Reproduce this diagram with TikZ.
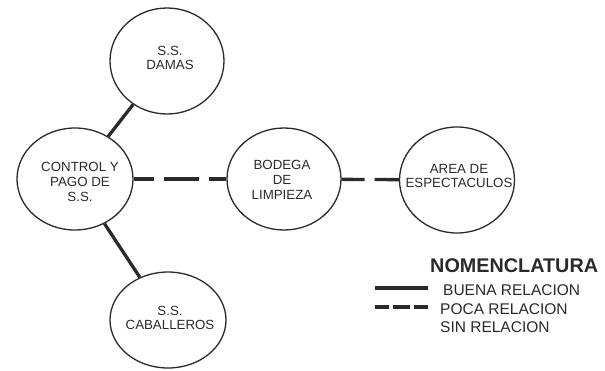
\documentclass[tikz,border=0pt]{standalone}
\usepackage{fontspec}
\setmainfont{Liberation Sans}
\usetikzlibrary{shapes.geometric}
\definecolor{ink}{HTML}{2A2A2A}
\begin{document}
\begin{tikzpicture}[x=1pt,y=-1pt,
  area/.style={ellipse,draw=ink,line width=1.3pt,inner sep=0pt},
  txt/.style={align=center,font=\fontsize{13.3}{14.8}\selectfont,text=ink,inner sep=0pt},
  good/.style={draw=ink,line width=3.3pt},
  poor/.style={draw=ink,line width=3.3pt,dash pattern=on 35pt off 10pt},
  legtext/.style={anchor=base west,font=\fontsize{15.5}{18}\selectfont,text=ink,inner sep=0pt}]
\useasboundingbox (0,0) rectangle (605,370);
\node[area,minimum width=114pt,minimum height=106pt] (damas) at (167,61) {};
\node[area,minimum width=116pt,minimum height=102pt] (control) at (75,179) {};
\node[area,minimum width=116pt,minimum height=96pt] (cab) at (168,320) {};
\node[area,minimum width=114pt,minimum height=102pt] (bodega) at (284,179) {};
\node[area,minimum width=115pt,minimum height=106pt] (esp) at (457,180) {};
\node[txt] (damast) at (170,58) {S.S.\\DAMAS};
\node[txt] (controlt) at (80,182) {CONTROL Y\\PAGO DE\\S.S.};
\node[txt] (cabt) at (170,318) {S.S.\\CABALLEROS};
\node[txt] (bodegat) at (282,180) {BODEGA\\DE\\LIMPIEZA};
\node[txt] (espt) at (459,176) {AREA DE\\ESPECTACULOS};
\draw[good] (control) -- (damas);
\draw[good] (control) -- (cab);
\draw[poor,dash phase=15pt] (control) -- (bodega);
\draw[poor,dash phase=12pt] (bodega) -- (esp);
% legend
\node[anchor=base west,font=\fontsize{19.8}{22}\selectfont\bfseries,text=ink,inner sep=0pt] (nom) at (430,272) {NOMENCLATURA};
\node[legtext] (buena) at (443,295) {BUENA RELACION};
\node[legtext] (poca) at (440,314) {POCA RELACION};
\node[legtext] (sin) at (440,332) {SIN RELACION};
\coordinate (g1) at (375,288);
\coordinate (g2) at (428,288);
\coordinate (p1) at (375,307);
\coordinate (p2) at (428,307);
\draw[good] (g1) -- (g2);
\draw[draw=ink,line width=3.3pt,dash pattern=on 17.5pt off 3.5pt,dash phase=3.5pt] (p1) -- (p2);
\end{tikzpicture}
\end{document}
